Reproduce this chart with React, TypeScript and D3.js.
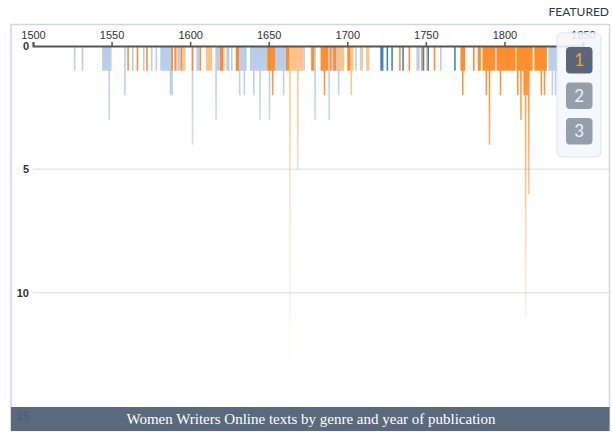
import React, { useEffect, useRef } from 'react';
import * as d3 from 'd3';

// [year, number of texts] for each genre
const lightBlueTexts: [number, number][] = [
  [1526, 1], [1531, 1], [1544, 1], [1545, 1], [1546, 1], [1547, 1], [1548, 3], [1549, 1],
  [1558, 2], [1563, 1], [1570, 1], [1575, 1], [1578, 1], [1581, 1], [1582, 1], [1583, 1],
  [1584, 1], [1585, 1], [1586, 1], [1587, 2], [1588, 2], [1592, 1], [1593, 1], [1601, 4],
  [1604, 1], [1605, 1], [1616, 3], [1617, 1], [1618, 1], [1620, 1], [1623, 1], [1624, 1],
  [1626, 1], [1630, 1], [1631, 2], [1632, 1], [1633, 1], [1634, 2], [1635, 1], [1638, 1],
  [1639, 1], [1640, 2], [1641, 1], [1642, 1], [1643, 1], [1644, 3], [1645, 1], [1646, 1],
  [1647, 1], [1648, 1], [1650, 3], [1654, 1], [1655, 1], [1656, 1], [1657, 1], [1658, 1],
  [1659, 2], [1660, 1], [1672, 1], [1679, 3], [1688, 3], [1690, 1], [1693, 1], [1694, 2],
  [1705, 1], [1708, 1], [1744, 1], [1745, 1], [1759, 1], [1794, 1], [1828, 1], [1829, 1],
  [1830, 2], [1831, 1], [1832, 2], [1833, 1],
];

const orangeTexts: [number, number][] = [
  [1560, 1], [1566, 1], [1572, 1], [1588, 1], [1590, 1], [1594, 1], [1601, 1], [1606, 1],
  [1619, 1], [1620, 1], [1629, 1], [1630, 1], [1649, 1], [1650, 1], [1651, 1], [1652, 2],
  [1653, 1], [1661, 1], [1662, 1], [1677, 1], [1678, 1], [1683, 1], [1684, 1], [1685, 2],
  [1686, 1], [1687, 1], [1689, 1], [1691, 1], [1692, 1], [1700, 1], [1701, 1], [1733, 1],
  [1739, 1], [1747, 1], [1755, 1], [1772, 1], [1773, 2], [1774, 1], [1780, 1], [1783, 1],
  [1784, 1], [1786, 1], [1787, 1], [1788, 2], [1789, 1], [1790, 4], [1791, 1], [1792, 1],
  [1793, 1], [1795, 1], [1796, 1], [1797, 2], [1798, 1], [1799, 1], [1800, 1], [1801, 1],
  [1802, 1], [1803, 1], [1804, 1], [1805, 1], [1806, 1], [1808, 2], [1809, 1], [1810, 3],
  [1811, 1], [1812, 2], [1813, 11], [1814, 2], [1815, 6], [1816, 1], [1817, 1], [1819, 1],
  [1820, 1], [1821, 1], [1822, 1], [1823, 2], [1824, 1], [1825, 2], [1826, 1],
];

const lightOrangeTexts: [number, number][] = [
  [1591, 1], [1595, 1], [1596, 1], [1610, 1], [1611, 1], [1612, 1], [1613, 1], [1621, 1],
  [1663, 13], [1664, 1], [1665, 1], [1666, 1], [1667, 1], [1668, 5], [1669, 1], [1670, 1],
  [1671, 1], [1694, 1], [1695, 1], [1696, 1], [1697, 1], [1702, 2], [1703, 1], [1709, 1],
  [1712, 1], [1713, 1], [1750, 1], [1807, 1],
];

const darkBlueTexts: [number, number][] = [
  [1721, 1], [1722, 1], [1725, 1], [1728, 1], [1735, 1], [1748, 1], [1751, 1], [1768, 1],
];

const genres = [
  { key: 'lightblue', color: '#aec7e8', data: lightBlueTexts },
  { key: 'lightorange', color: '#ffbb78', data: lightOrangeTexts },
  { key: 'orange', color: '#ff7f0e', data: orangeTexts },
  { key: 'darkblue', color: '#1f77b4', data: darkBlueTexts },
];

const yearTicks = [1500, 1550, 1600, 1650, 1700, 1750, 1800, 1850];
const countTicks = [0, 5, 10, 15];
const featuredButtons = ['1', '2', '3'];

const App = () => {
  const ref = useRef<SVGSVGElement>(null);

  useEffect(() => {
    const svg = d3.select(ref.current);
    svg.selectAll('*').remove();

    const x = d3.scaleLinear().domain([1500, 1850]).range([33, 583]);
    const y = d3.scaleLinear().domain([0, 15]).range([46, 416]);
    const years = d3.range(1500, 1852);

    // outer frame
    svg.append('rect')
      .attr('x', 11).attr('y', 24.5).attr('width', 598.5).attr('height', 406)
      .attr('fill', '#fff').attr('stroke', '#c9d8ea').attr('stroke-width', 1.5);

    // fading gradients, one per genre
    const defs = svg.append('defs');
    genres.forEach((g) => {
      const grad = defs.append('linearGradient')
        .attr('id', 'fade-' + g.key)
        .attr('gradientUnits', 'userSpaceOnUse')
        .attr('x1', 0).attr('x2', 0)
        .attr('y1', y(0)).attr('y2', y(14));
      [[0, 1], [0.1, 0.93], [0.25, 0.7], [0.5, 0.38], [0.85, 0.08], [1, 0]].forEach(([o, a]) => {
        grad.append('stop').attr('offset', o).attr('stop-color', g.color).attr('stop-opacity', a);
      });
    });

    // gridlines
    svg.append('g')
      .selectAll('line')
      .data(countTicks.slice(1))
      .enter()
      .append('line')
      .attr('x1', 33).attr('x2', 609)
      .attr('y1', (d) => y(d)).attr('y2', (d) => y(d))
      .attr('stroke', '#e8e8e8').attr('stroke-width', 1.5);

    // one stepped area per genre
    const area = d3.area<[number, number]>()
      .curve(d3.curveStepAfter)
      .x((d) => x(d[0]))
      .y0(y(0))
      .y1((d) => y(d[1]));

    genres.forEach((g) => {
      const counts = new Map(g.data);
      const series = years.map((yr) => [yr, counts.get(yr) || 0] as [number, number]);
      svg.append('path')
        .datum(series)
        .attr('d', area)
        .attr('fill', `url(#fade-${g.key})`)
        .attr('fill-opacity', 0.9);
    });

    // top year axis
    const axis = svg.append('g')
      .attr('transform', `translate(0,${y(0)})`)
      .call(d3.axisTop(x).tickValues(yearTicks).tickFormat(d3.format('d')).tickSize(4));
    axis.select('.domain').attr('stroke', '#555').attr('stroke-width', 2);
    axis.selectAll('.tick line').attr('stroke', '#555').attr('stroke-width', 1.5);
    axis.selectAll('.tick text')
      .attr('fill', '#333')
      .style('font-family', '"Liberation Sans", Arial, sans-serif')
      .style('font-size', '11px');

    // count labels on the left
    svg.append('g')
      .selectAll('text')
      .data(countTicks.slice(0, 3))
      .enter()
      .append('text')
      .attr('x', 29)
      .attr('y', (d) => y(d) + 4)
      .attr('text-anchor', 'end')
      .attr('fill', '#333')
      .style('font-family', '"Liberation Sans", Arial, sans-serif')
      .style('font-size', '11px')
      .style('font-weight', 600)
      .text((d) => d);

    // title bar
    svg.append('rect')
      .attr('x', 11).attr('y', 407).attr('width', 598.5).attr('height', 24)
      .attr('fill', '#5a6a7c');
    svg.append('text')
      .attr('x', 29).attr('y', y(15) + 4)
      .attr('text-anchor', 'end')
      .attr('fill', '#4c5a6b')
      .style('font-family', '"Liberation Sans", Arial, sans-serif')
      .style('font-size', '11px')
      .text(countTicks[3]);
    svg.append('text')
      .attr('x', 311).attr('y', 424)
      .attr('text-anchor', 'middle')
      .attr('fill', '#fff')
      .style('font-family', '"Liberation Serif", "Times New Roman", serif')
      .style('font-size', '15px')
      .text('Women Writers Online texts by genre and year of publication');

    // FEATURED panel
    svg.append('text')
      .attr('x', 609).attr('y', 16)
      .attr('text-anchor', 'end')
      .attr('fill', '#2b3a4a')
      .style('font-family', 'Lato, "Open Sans", sans-serif')
      .style('font-size', '12px')
      .text('FEATURED');

    svg.append('rect')
      .attr('x', 557).attr('y', 33).attr('width', 44).attr('height', 124)
      .attr('rx', 5)
      .attr('fill', '#f4f6fa').attr('fill-opacity', 0.88)
      .attr('stroke', '#dde4ee');

    const btn = svg.append('g')
      .selectAll('g')
      .data(featuredButtons)
      .enter()
      .append('g')
      .attr('transform', (d, i) => `translate(566,${47 + i * 35.5})`);
    btn.append('rect')
      .attr('width', 26.5).attr('height', 26.5).attr('rx', 4)
      .attr('fill', (d, i) => (i === 0 ? '#5b6778' : '#959fab'));
    btn.append('text')
      .attr('x', 13.25).attr('y', 19)
      .attr('text-anchor', 'middle')
      .attr('fill', (d, i) => (i === 0 ? '#f0a030' : '#eef1f4'))
      .style('font-family', 'Lato, "Open Sans", sans-serif')
      .style('font-size', '17px')
      .text((d) => d);
  }, []);

  return (
    <svg
      ref={ref}
      width={612}
      height={434}
      style={{ position: 'absolute', left: 0, top: 0, background: '#fff' }}
    />
  );
};

export default App;
